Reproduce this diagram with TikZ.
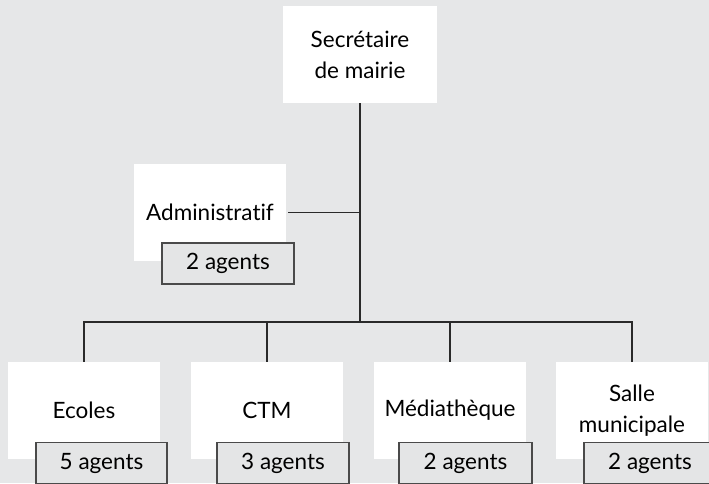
\documentclass[tikz,border=0pt]{standalone}
\usepackage{fontspec}
\setmainfont[Ligatures=NoCommon]{Lato}
\definecolor{bggray}{HTML}{E6E7E8}
\definecolor{aggray}{HTML}{E4E5E6}
\definecolor{edgegray}{HTML}{4A4A4A}
\definecolor{linecol}{HTML}{2A2A2A}
\tikzset{
  unitbox/.style={fill=white, draw=none, minimum width=152pt, minimum height=97pt,
    inner sep=0pt, align=center, font=\fontsize{22.5}{31}\selectfont},
  agentbox/.style={fill=aggray, draw=edgegray, line width=1.1pt, minimum width=131pt,
    minimum height=41pt, inner sep=0pt, font=\fontsize{22.5}{26}\selectfont},
  link/.style={draw=linecol, line width=1.3pt}
}
\begin{document}
\begin{tikzpicture}[x=1pt,y=-1pt]
\fill[bggray] (0,0) rectangle (709,483);
\useasboundingbox (0,0) rectangle (709,483);
\clip (0,0) rectangle (709,483);
% main boxes
\node[unitbox, minimum width=154pt] (sec) at (360,54.5) {Secrétaire\\de mairie};
\node[unitbox] (adm) at (210,212.5) {Administratif};
\node[unitbox] (ecoles) at (84,410.5) {Ecoles};
\node[unitbox] (ctm) at (267,410.5) {CTM};
\node[unitbox] (med) at (450,410.5) {Médiathèque};
\node[unitbox] (salle) at (632,410.5) {Salle\\municipale};
% agent boxes
\node[agentbox, minimum width=132pt] (admag) at (228,263.5) {2 agents};
\node[agentbox] (ecag) at (101.5,463) {5 agents};
\node[agentbox, minimum width=132pt] (ctmag) at (283,463) {3 agents};
\node[agentbox, minimum width=133pt] (medag) at (465.5,463) {2 agents};
\node[agentbox, minimum width=132pt] (sallag) at (650,463) {2 agents};
% connectors
\coordinate (bar) at (360,322);
\draw[link] (sec.south) -- (bar);
\draw[link] ([xshift=2pt]adm.east) -- (adm.east -| sec.south);
\draw[link] (ecoles.north) |- (salle.north |- bar) -- (salle.north);
\draw[link] (ctm.north) -- (ctm.north |- bar);
\draw[link] (med.north) -- (med.north |- bar);
\end{tikzpicture}
\end{document}
